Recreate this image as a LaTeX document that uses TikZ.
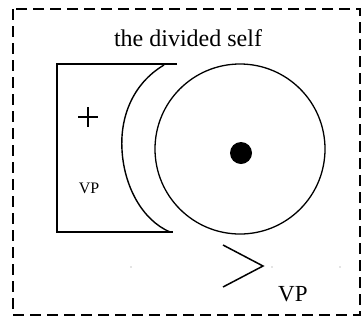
\documentclass[tikz,border=0pt]{standalone}
\usepackage{fontspec}
\setmainfont{Liberation Serif}
\usetikzlibrary{positioning,calc}

\begin{document}
\begin{tikzpicture}[
		x=1pt, y=-1pt,
		frame/.style={draw, line width=1.8pt, dash pattern=on 11pt off 6pt},
		ink/.style={draw, line width=1.6pt},
		label/.style={inner sep=0pt, font=\fontsize{#1}{#1}\selectfont},
		speck/.style={fill=black!45, circle, inner sep=0pt, minimum size=1.4pt}
		]
		\useasboundingbox (0,0) rectangle (363,322);
		\draw[frame] (13,9) rectangle (360,315);
		
		\node[label=24] (title) at (188,38) {the divided self};
		
		% the box with its open, curved side
		\coordinate (tr) at (177,64);
		\coordinate (tl) at (57,64);
		\coordinate (bl) at (57,232);
		\coordinate (br) at (173,232);
		\draw[ink] (tr) -- (tl) -- (bl) -- (br);
		\draw[line width=1.4pt] (164,65) .. controls (132,84) and (120,118) .. (122,150)
			.. controls (124,186) and (142,220) .. (170,232);
		
		\coordinate (plus) at (88,117);
		\draw[line width=1.6pt] ($(plus)+(-10,0)$) -- ($(plus)+(10,0)$);
		\draw[line width=1.6pt] ($(plus)+(0,-10)$) -- ($(plus)+(0,10)$);
		\node[label=16] (vpin) at (89,188) {VP};
		
		% the self
		\node[draw, circle, line width=1.3pt, minimum size=170pt, inner sep=0pt] (self) at (240,149) {};
		\node[fill, circle, minimum size=22pt, inner sep=0pt] (core) at (241,153) {};
		
		% the eye
		\coordinate (eyetop) at (223,245);
		\coordinate (eye) at (263,266);
		\coordinate (eyebot) at (223,287);
		\draw[line width=1.5pt] (eyetop) -- (eye) -- (eyebot);
		\node[label=23, anchor=west] (vpout) at (278,294) {VP};
		
		\node[speck] (s1) at (131,267) {};
		\node[speck] (s2) at (272,267) {};
		\node[speck] (s3) at (340,267) {};
		
\end{tikzpicture}
\end{document}
